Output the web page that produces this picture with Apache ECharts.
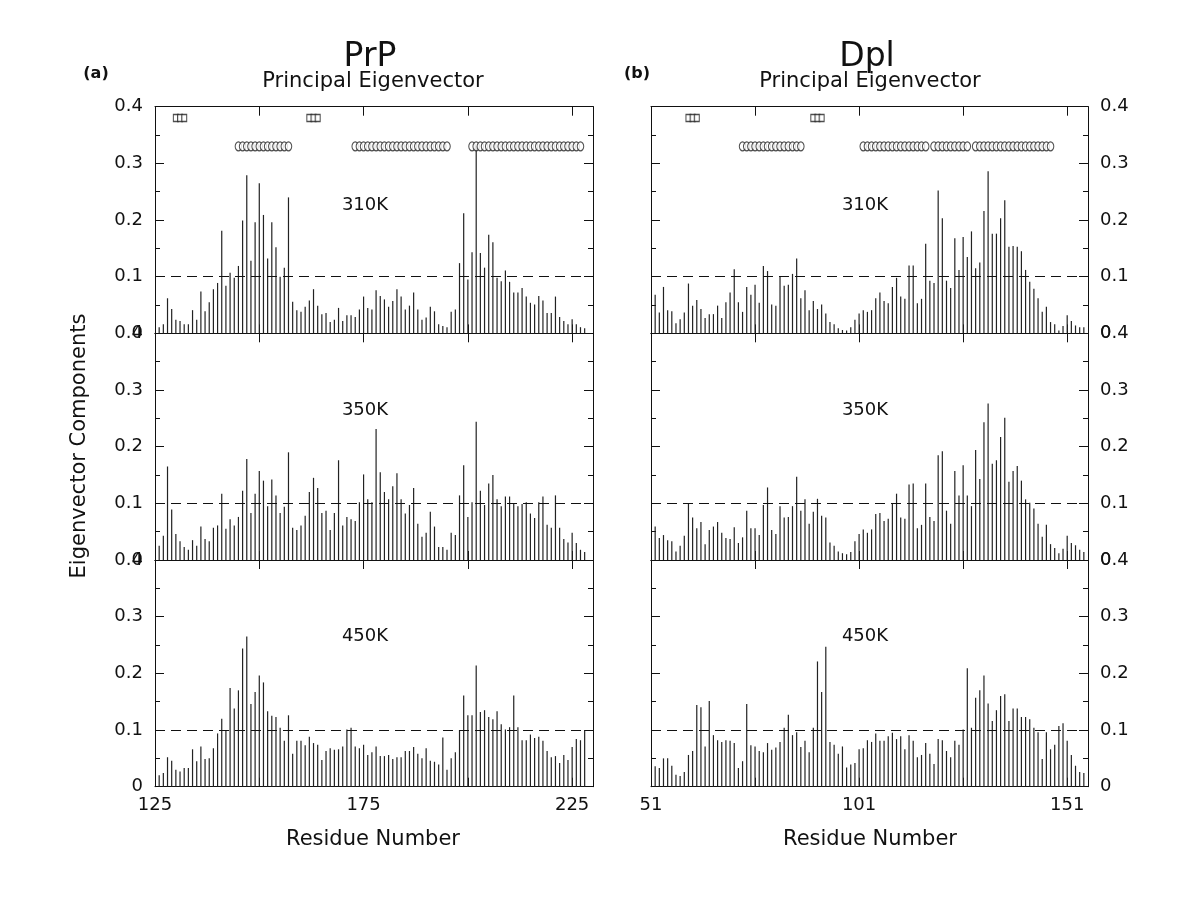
<!DOCTYPE html>
<html>
<head>
<meta charset="utf-8">
<script src="https://cdn.jsdelivr.net/npm/echarts@6/dist/echarts.min.js"></script>
<style>html,body{margin:0;padding:0;background:#fff}#c{width:1200px;height:899px}</style>
</head>
<body>
<div id="c"></div>
<script>
// ---------- DATA ----------
const prpFirstResidue = 126;
const dplFirstResidue = 52;
const prpXTicks = [125, 175, 225];
const dplXTicks = [51, 101, 151];
const yTickLabels = ['0', '0.1', '0.2', '0.3', '0.4'];
const temperatures = ['310K', '350K', '450K'];

const prp310 = [0.011,0.016,0.062,0.043,0.024,0.022,0.016,0.016,0.041,0.024,
0.074,0.039,0.055,0.078,0.089,0.181,0.084,0.107,0.098,0.119,
0.199,0.279,0.128,0.196,0.265,0.209,0.132,0.196,0.152,0.100,
0.116,0.240,0.056,0.041,0.038,0.047,0.058,0.078,0.049,0.034,
0.036,0.020,0.024,0.045,0.022,0.032,0.032,0.029,0.042,0.065,
0.045,0.042,0.076,0.066,0.060,0.047,0.057,0.078,0.065,0.042,
0.049,0.072,0.042,0.024,0.028,0.047,0.039,0.016,0.013,0.011,
0.038,0.042,0.124,0.212,0.095,0.143,0.330,0.142,0.116,0.174,
0.161,0.098,0.092,0.111,0.091,0.072,0.072,0.080,0.065,0.054,
0.051,0.066,0.058,0.036,0.036,0.065,0.029,0.022,0.016,0.025,
0.016,0.011,0.009];
const prp350 = [0.025,0.043,0.165,0.089,0.046,0.033,0.023,0.018,0.035,0.025,
0.059,0.037,0.033,0.057,0.061,0.117,0.055,0.072,0.061,0.076,
0.122,0.178,0.083,0.117,0.157,0.140,0.095,0.142,0.114,0.083,
0.094,0.190,0.057,0.053,0.061,0.078,0.120,0.145,0.127,0.083,
0.087,0.053,0.083,0.176,0.061,0.076,0.072,0.069,0.102,0.151,
0.107,0.102,0.231,0.155,0.120,0.107,0.130,0.153,0.107,0.082,
0.097,0.127,0.064,0.041,0.048,0.085,0.059,0.023,0.023,0.018,
0.048,0.044,0.114,0.167,0.076,0.102,0.244,0.122,0.097,0.135,
0.150,0.107,0.095,0.112,0.112,0.099,0.095,0.099,0.102,0.082,
0.074,0.102,0.112,0.062,0.057,0.114,0.057,0.037,0.031,0.048,
0.030,0.018,0.014];
const prp450 = [0.020,0.024,0.052,0.046,0.030,0.027,0.033,0.033,0.066,0.045,
0.071,0.049,0.050,0.068,0.094,0.120,0.100,0.174,0.138,0.170,
0.244,0.265,0.146,0.167,0.196,0.184,0.133,0.125,0.123,0.104,
0.081,0.126,0.058,0.081,0.081,0.073,0.088,0.077,0.074,0.047,
0.063,0.068,0.065,0.066,0.071,0.101,0.104,0.071,0.068,0.074,
0.056,0.061,0.071,0.054,0.054,0.056,0.049,0.052,0.052,0.063,
0.063,0.070,0.058,0.050,0.068,0.046,0.044,0.039,0.087,0.030,
0.050,0.061,0.100,0.161,0.126,0.126,0.214,0.132,0.135,0.123,
0.119,0.133,0.110,0.101,0.105,0.161,0.105,0.082,0.082,0.092,
0.086,0.088,0.081,0.063,0.052,0.054,0.042,0.056,0.047,0.070,
0.084,0.082,0.100];

const dpl310 = [0.068,0.037,0.082,0.041,0.039,0.018,0.025,0.037,0.088,0.049,
0.059,0.043,0.027,0.034,0.034,0.049,0.027,0.055,0.072,0.113,
0.055,0.038,0.082,0.068,0.086,0.054,0.119,0.110,0.051,0.049,
0.100,0.084,0.086,0.105,0.132,0.062,0.076,0.041,0.057,0.043,
0.051,0.035,0.020,0.016,0.009,0.006,0.005,0.011,0.024,0.035,
0.041,0.038,0.041,0.062,0.072,0.057,0.053,0.082,0.098,0.065,
0.061,0.120,0.120,0.053,0.061,0.158,0.093,0.089,0.252,0.203,
0.093,0.080,0.168,0.112,0.170,0.135,0.180,0.115,0.125,0.216,
0.286,0.176,0.176,0.203,0.235,0.153,0.154,0.153,0.145,0.112,
0.091,0.079,0.062,0.038,0.047,0.020,0.016,0.005,0.013,0.032,
0.022,0.014,0.011,0.011];
const dpl350 = [0.059,0.039,0.044,0.035,0.033,0.015,0.025,0.043,0.100,0.075,
0.056,0.067,0.028,0.053,0.059,0.067,0.048,0.039,0.037,0.058,
0.030,0.040,0.087,0.056,0.056,0.044,0.097,0.128,0.053,0.046,
0.095,0.075,0.076,0.095,0.147,0.087,0.107,0.064,0.085,0.108,
0.078,0.075,0.031,0.025,0.015,0.012,0.010,0.014,0.033,0.046,
0.054,0.048,0.054,0.081,0.083,0.069,0.073,0.100,0.117,0.075,
0.073,0.133,0.135,0.056,0.062,0.135,0.076,0.069,0.185,0.192,
0.087,0.064,0.157,0.114,0.167,0.114,0.095,0.194,0.143,0.243,
0.276,0.170,0.176,0.217,0.251,0.138,0.157,0.166,0.140,0.107,
0.101,0.091,0.064,0.041,0.062,0.028,0.021,0.012,0.020,0.043,
0.030,0.026,0.018,0.014];
const dpl450 = [0.036,0.033,0.050,0.050,0.037,0.021,0.019,0.026,0.056,0.063,
0.144,0.140,0.071,0.151,0.091,0.082,0.079,0.082,0.081,0.077,
0.033,0.045,0.146,0.073,0.071,0.063,0.061,0.077,0.065,0.069,
0.079,0.104,0.127,0.091,0.096,0.070,0.081,0.061,0.104,0.221,
0.167,0.247,0.079,0.074,0.058,0.071,0.034,0.039,0.042,0.066,
0.068,0.082,0.079,0.094,0.081,0.081,0.089,0.095,0.084,0.089,
0.066,0.091,0.081,0.052,0.056,0.077,0.058,0.040,0.084,0.082,
0.063,0.052,0.081,0.074,0.101,0.209,0.104,0.157,0.170,0.196,
0.147,0.116,0.135,0.160,0.163,0.116,0.138,0.138,0.123,0.123,
0.119,0.104,0.096,0.049,0.096,0.066,0.074,0.107,0.112,0.081,
0.056,0.037,0.026,0.024];

// secondary structure markers (residue numbers)
const prpStrands = [130,131,132,162,163,164];
const prpHelices = [145,146,147,148,149,150,151,152,153,154,155,156,157,
  173,174,175,176,177,178,179,180,181,182,183,184,185,186,187,188,189,190,191,192,193,194,195,
  201,202,203,204,205,206,207,208,209,210,211,212,213,214,215,216,217,218,219,220,221,222,223,224,225,226,227];
const dplStrands = [60,61,62,90,91,92];
const dplHelices = [73,74,75,76,77,78,79,80,81,82,83,84,85,86,87,
  102,103,104,105,106,107,108,109,110,111,112,113,114,115,116,117,
  119,120,121,122,123,124,125,126,127,
  129,130,131,132,133,134,135,136,137,138,139,140,141,142,143,144,145,146,147];
const strandLevel = 0.38;
const helixLevel = 0.33;
const thresholdLevel = 0.1;

// ---------- LAYOUT ----------
const FONT = '"DejaVu Sans", "Liberation Sans", Arial, sans-serif';
const INK = '#111';
const panels = [
  {left: 155, width: 438, xmin: 125, xmax: 230, first: prpFirstResidue, ticks: prpXTicks,
   series: [prp310, prp350, prp450], strands: prpStrands, helices: prpHelices, labelSide: 'left'},
  {left: 651, width: 437, xmin: 51, xmax: 156, first: dplFirstResidue, ticks: dplXTicks,
   series: [dpl310, dpl350, dpl450], strands: dplStrands, helices: dplHelices, labelSide: 'right'}
];
const rowTops = [106.7, 333.3, 560];
const rowH = 226.7;

const grid = [], xAxis = [], yAxis = [], series = [];
const lineStyle = {color: INK, width: 1};

panels.forEach((p, pi) => {
  rowTops.forEach((top, ri) => {
    const g = pi * 3 + ri;
    grid.push({left: p.left, top: top, width: p.width, height: rowH, containLabel: false});
    ['bottom', 'top'].forEach(pos => {
      xAxis.push({
        type: 'value', gridIndex: g, position: pos, min: p.xmin, max: p.xmax, interval: 25,
        axisLine: {show: true, onZero: false, lineStyle},
        axisTick: {show: true, inside: true, length: 9, lineStyle},
        splitLine: {show: false},
        axisLabel: {
          show: pos === 'bottom' && ri === 2, margin: 10, fontSize: 18, fontFamily: FONT, color: INK,
          formatter: v => p.ticks.indexOf(v) >= 0 ? String(v) : '',
          showMinLabel: true, showMaxLabel: true
        }
      });
    });
    ['left', 'right'].forEach(pos => {
      yAxis.push({
        type: 'value', gridIndex: g, position: pos, min: 0, max: 0.4, interval: 0.1,
        axisLine: {show: true, onZero: false, lineStyle},
        axisTick: {show: true, inside: true, length: 9, lineStyle},
        minorTick: {show: true, splitNumber: 2, length: 5, lineStyle},
        splitLine: {show: false},
        axisLabel: {
          show: pos === p.labelSide, margin: 12, fontSize: 18, fontFamily: FONT, color: INK,
          formatter: v => yTickLabels[Math.round(v * 10)]
        }
      });
    });
    const vals = p.series[ri];
    series.push({
      type: 'bar', xAxisIndex: 2 * g, yAxisIndex: 2 * g, barWidth: 1.2,
      data: vals.map((v, i) => [p.first + i, v]),
      itemStyle: {color: '#222'},
      silent: true,
      markLine: {
        silent: true, symbol: 'none', label: {show: false},
        lineStyle: {type: [10, 6], color: INK, width: 1},
        data: [{yAxis: thresholdLevel}]
      }
    });
    if (ri === 0) {
      series.push({
        type: 'scatter', xAxisIndex: 2 * g, yAxisIndex: 2 * g, symbol: 'rect', symbolSize: [5, 7],
        data: p.strands.map(r => [r, strandLevel]),
        itemStyle: {color: '#fff', borderColor: '#222', borderWidth: 1.2}, z: 5, silent: true
      });
      series.push({
        type: 'scatter', xAxisIndex: 2 * g, yAxisIndex: 2 * g, symbol: 'circle', symbolSize: [6.5, 9],
        data: p.helices.map(r => [r, helixLevel]),
        itemStyle: {color: '#fff', borderColor: '#222', borderWidth: 1.2}, z: 5, silent: true
      });
    }
  });
});

function txt(text, x, y, size, opts) {
  opts = opts || {};
  return {
    type: 'text', x: x, y: y, rotation: opts.rotation || 0, z: 10,
    style: {text: text, fill: INK, font: (opts.bold ? 'bold ' : '') + size + 'px ' + FONT,
            align: 'center', verticalAlign: 'middle'}
  };
}
const graphic = [
  txt('(a)', 96, 74, 16, {bold: true}),
  txt('PrP', 370, 57, 33),
  txt('Principal Eigenvector', 373, 82, 21),
  txt('(b)', 637, 74, 16, {bold: true}),
  txt('Dpl', 867, 57, 33),
  txt('Principal Eigenvector', 870, 82, 21),
  txt('Residue Number', 373, 840, 21),
  txt('Residue Number', 870, 840, 21),
  txt('Eigenvector Components', 80, 446, 21, {rotation: Math.PI / 2})
];
const labelYs = [205, 410, 636];
temperatures.forEach((t, i) => {
  graphic.push(txt(t, 365, labelYs[i], 18));
  graphic.push(txt(t, 865, labelYs[i], 18));
});

const chart = echarts.init(document.getElementById('c'), null, {renderer: 'canvas'});
chart.setOption({
  animation: false,
  backgroundColor: '#fff',
  grid, xAxis, yAxis, series, graphic
});
</script>
</body>
</html>
